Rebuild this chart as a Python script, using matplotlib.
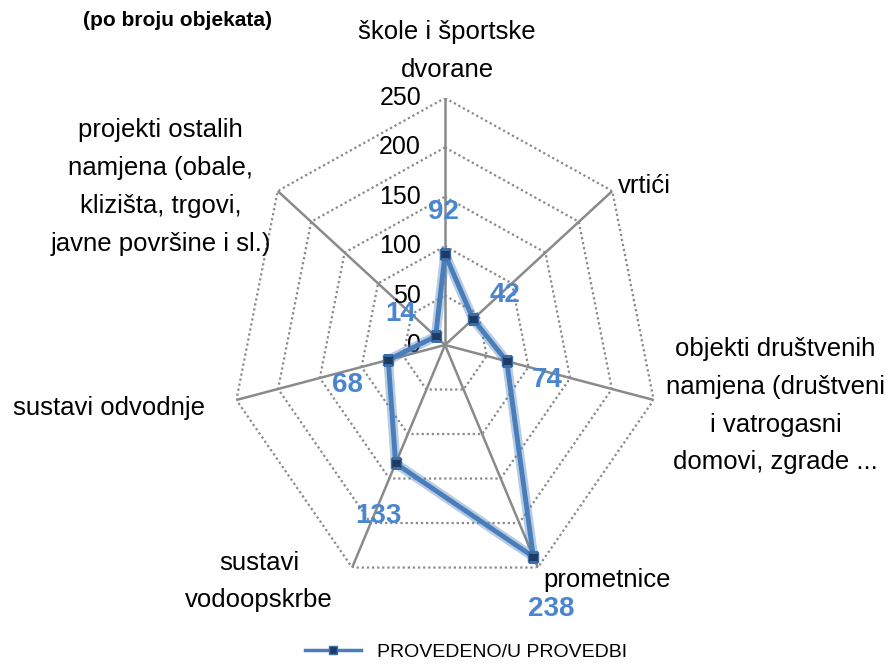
import numpy as np
import matplotlib
matplotlib.use("Agg")
import matplotlib.pyplot as plt
from matplotlib.lines import Line2D

plt.rcParams['font.family'] = ['Liberation Sans Narrow', 'Liberation Sans', 'DejaVu Sans']

categories = [
    "škole i športske\ndvorane",
    "vrtići",
    "objekti društvenih\nnamjena (društveni\ni vatrogasni\ndomovi, zgrade ...",
    "prometnice",
    "sustavi\nvodoopskrbe",
    "sustavi odvodnje",
    "projekti ostalih\nnamjena (obale,\nklizišta, trgovi,\njavne površine i sl.)",
]
values = [92, 42, 74, 238, 133, 68, 14]
radial_ticks = [0, 50, 100, 150, 200, 250]
series_name = "PROVEDENO/U PROVEDBI"
title_text = "(po broju objekata)"

# label placement styles (pixel offsets from anchor points)
cat_offsets = [(2, 47), (6, 5), (122, -6), (5, -12), (-93, -14), (-31, -8), (-117, 4)]
cat_align = [("center", "center"), ("left", "center"), ("center", "center"),
             ("left", "center"), ("center", "center"), ("right", "center"),
             ("center", "center")]
val_offsets = [(-2, 42), (32, 24), (40, -19), (18, -52), (-17, -53), (-41, -25), (-35, 22)]

W, H = 888, 664
fig = plt.figure(figsize=(W / 100, H / 100), dpi=100)
cx, cy, rx, ry = 445, 345, 214, 247
ax = fig.add_axes([(cx - rx) / W, (H - cy - ry) / H, 2 * rx / W, 2 * ry / H], projection='polar')
ax.set_aspect('auto')
ax.set_theta_zero_location('N')
ax.set_theta_direction(-1)
ax.set_ylim(0, radial_ticks[-1])
ax.grid(False)
ax.set_xticks([])
ax.set_yticks([])
ax.spines['polar'].set_visible(False)
ax.patch.set_alpha(0)

n = len(categories)
theta = np.arange(n) * 2 * np.pi / n
theta_c = np.append(theta, theta[0])

grid_col = '#8a8a8a'
for r in radial_ticks[1:]:
    ax.plot(theta_c, [r] * (n + 1), color=grid_col, lw=1.6, ls=(0, (1, 1.3)), zorder=1)
for t in theta:
    ax.plot([t, t], [0, radial_ticks[-1]], color=grid_col, lw=1.8, zorder=2)

for r in radial_ticks:
    ax.annotate(str(r), (0, r), xytext=(-24, 0), textcoords='offset pixels',
                ha='right', va='center', fontsize=18, color='black')

vals_c = values + values[:1]
ax.plot(theta_c, vals_c, color='#4f81bd', lw=7, alpha=0.4, zorder=3, solid_joinstyle='round')
ax.plot(theta_c, vals_c, color='#4a7ebb', lw=3.5, zorder=4, solid_joinstyle='round')
ax.plot(theta, values, ls='none', marker='s', ms=6.5, mfc='#1f3b63', mec='#3d6ea8', mew=1, zorder=5)

for t, v, off in zip(theta, values, val_offsets):
    ax.annotate(str(v), (t, v), xytext=off, textcoords='offset pixels',
                ha='center', va='center', fontsize=20, fontweight='bold', color='#4a86d0', zorder=6)

for t, lab, off, (ha, va) in zip(theta, categories, cat_offsets, cat_align):
    ax.annotate(lab, (t, radial_ticks[-1]), xytext=off, textcoords='offset pixels',
                ha=ha, va=va, fontsize=18.5, color='black', linespacing=1.72,
                multialignment='center', annotation_clip=False)

fig.text(83 / W, 1 - 20 / H, title_text, ha='left', va='center', fontsize=15, fontweight='bold')

handle = Line2D([], [], color='#4a7ebb', lw=2.5, marker='s', ms=6, mfc='#1f3b63', mec='#3d6ea8')
fig.legend([handle], [series_name], loc='center', bbox_to_anchor=(466 / W, 1 - 652 / H),
           frameon=False, fontsize=14, handlelength=2.9, handletextpad=0.8)

fig.savefig('out.png', dpi=100)
